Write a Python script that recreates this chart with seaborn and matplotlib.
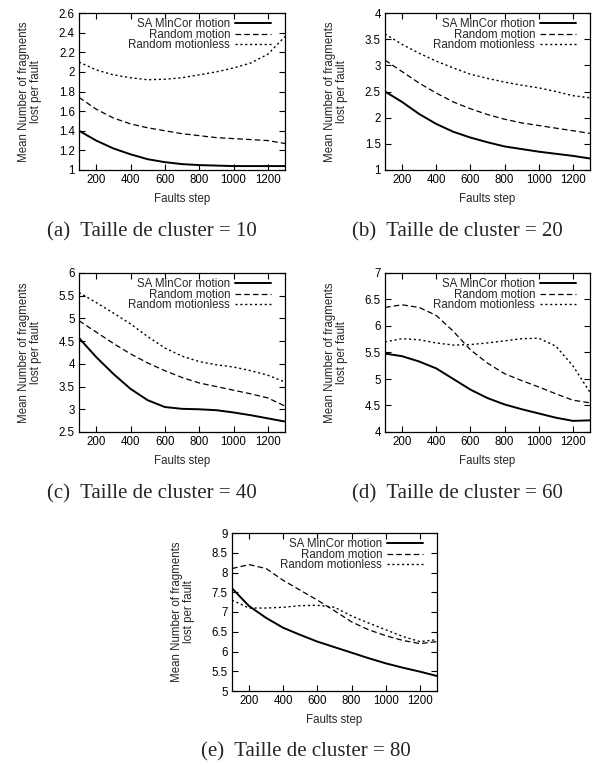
import matplotlib
matplotlib.use("Agg")
import matplotlib.pyplot as plt
import seaborn as sns
import pandas as pd

steps = [100, 200, 300, 400, 500, 600, 700, 800, 900, 1000, 1100, 1200, 1300]
series_names = ["SA MinCor motion", "Random motion", "Random motionless"]

# cluster size 10
c10_sa = [1.40, 1.30, 1.22, 1.16, 1.11, 1.08, 1.06, 1.05, 1.045, 1.04, 1.04, 1.04, 1.04]
c10_rm = [1.74, 1.62, 1.53, 1.47, 1.43, 1.40, 1.37, 1.35, 1.33, 1.32, 1.31, 1.30, 1.27]
c10_ml = [2.10, 2.02, 1.97, 1.94, 1.92, 1.925, 1.94, 1.97, 2.00, 2.04, 2.09, 2.18, 2.36]
# cluster size 20
c20_sa = [2.50, 2.30, 2.07, 1.88, 1.73, 1.62, 1.53, 1.45, 1.40, 1.35, 1.31, 1.27, 1.22]
c20_rm = [3.10, 2.88, 2.66, 2.47, 2.30, 2.17, 2.06, 1.97, 1.90, 1.85, 1.80, 1.75, 1.70]
c20_ml = [3.60, 3.40, 3.23, 3.08, 2.95, 2.83, 2.75, 2.68, 2.62, 2.57, 2.50, 2.42, 2.38]
# cluster size 40
c40_sa = [4.57, 4.15, 3.78, 3.45, 3.20, 3.05, 3.01, 3.00, 2.98, 2.93, 2.87, 2.80, 2.73]
c40_rm = [4.95, 4.70, 4.45, 4.22, 4.02, 3.85, 3.70, 3.58, 3.50, 3.42, 3.34, 3.25, 3.07]
c40_ml = [5.57, 5.35, 5.12, 4.88, 4.60, 4.35, 4.17, 4.05, 3.98, 3.93, 3.85, 3.75, 3.60]
# cluster size 60
c60_sa = [5.48, 5.43, 5.33, 5.20, 5.00, 4.80, 4.64, 4.52, 4.43, 4.35, 4.27, 4.21, 4.22]
c60_rm = [6.35, 6.40, 6.35, 6.20, 5.90, 5.55, 5.30, 5.10, 4.97, 4.85, 4.72, 4.60, 4.55]
c60_ml = [5.70, 5.76, 5.74, 5.68, 5.64, 5.65, 5.68, 5.72, 5.76, 5.77, 5.62, 5.25, 4.75]
# cluster size 80
c80_sa = [7.60, 7.15, 6.85, 6.60, 6.42, 6.25, 6.11, 5.97, 5.83, 5.70, 5.59, 5.49, 5.38]
c80_rm = [8.10, 8.20, 8.10, 7.80, 7.55, 7.30, 7.03, 6.75, 6.55, 6.40, 6.28, 6.20, 6.25]
c80_ml = [7.30, 7.10, 7.10, 7.12, 7.16, 7.17, 7.12, 6.90, 6.72, 6.55, 6.38, 6.25, 6.30]

captions = ["(a)  Taille de cluster = 10", "(b)  Taille de cluster = 20",
            "(c)  Taille de cluster = 40", "(d)  Taille de cluster = 60",
            "(e)  Taille de cluster = 80"]
ylims = [(1, 2.6), (1, 4), (2.5, 6), (4, 7), (5, 9)]
yticks = [[1, 1.2, 1.4, 1.6, 1.8, 2, 2.2, 2.4, 2.6],
          [1, 1.5, 2, 2.5, 3, 3.5, 4],
          [2.5, 3, 3.5, 4, 4.5, 5, 5.5, 6],
          [4, 4.5, 5, 5.5, 6, 6.5, 7],
          [5, 5.5, 6, 6.5, 7, 7.5, 8, 8.5, 9]]
ytick_labels = [["1", "1.2", "1.4", "1.6", "1.8", "2", "2.2", "2.4", "2.6"],
                ["1", "1.5", "2", "2.5", "3", "3.5", "4"],
                ["2.5", "3", "3.5", "4", "4.5", "5", "5.5", "6"],
                ["4", "4.5", "5", "5.5", "6", "6.5", "7"],
                ["5", "5.5", "6", "6.5", "7", "7.5", "8", "8.5", "9"]]
xticks = [200, 400, 600, 800, 1000, 1200]
xtick_labels = ["200", "400", "600", "800", "1000", "1200"]

panels = [(c10_sa, c10_rm, c10_ml), (c20_sa, c20_rm, c20_ml), (c40_sa, c40_rm, c40_ml),
          (c60_sa, c60_rm, c60_ml), (c80_sa, c80_rm, c80_ml)]

sns.set_theme(style="ticks")
plt.rcParams["font.family"] = ["Liberation Sans", "DejaVu Sans"]
plt.rcParams["axes.linewidth"] = 0.9

W, H = 595, 765
fig = plt.figure(figsize=(W / 100, H / 100), dpi=100)

# axes boxes in pixels: left, top, right, bottom
boxes = [(79, 13, 285, 170), (385, 13, 590, 170),
         (79, 273, 285, 432), (385, 273, 590, 432),
         (232, 533, 437, 691)]
cap_pos = [(152, 232), (457, 232), (152, 494), (457, 494), (306, 752)]

styles = [dict(linestyle="-", linewidth=1.4),
          dict(linestyle=(0, (4.5, 2.5)), linewidth=0.9),
          dict(linestyle=(0, (1.5, 2.0)), linewidth=1.0)]

fs = 8.3
for i, (vals, box) in enumerate(zip(panels, boxes)):
    l, t, r, b = box
    ax = fig.add_axes([l / W, 1 - b / H, (r - l) / W, (b - t) / H])
    df = pd.DataFrame({"step": steps * 3,
                       "value": list(vals[0]) + list(vals[1]) + list(vals[2]),
                       "series": [series_names[0]] * 13 + [series_names[1]] * 13 + [series_names[2]] * 13})
    for name, st in zip(series_names, styles):
        sub = df[df["series"] == name]
        sns.lineplot(data=sub, x="step", y="value", ax=ax, color="black",
                     label=name, **st)
    ax.set_xlim(100, 1300)
    ax.set_ylim(*ylims[i])
    ax.set_xticks(xticks)
    ax.set_xticklabels(xtick_labels)
    ax.set_yticks(yticks[i])
    ax.set_yticklabels(ytick_labels[i])
    ax.tick_params(direction="in", length=4, width=0.8, top=True, right=True,
                   labelsize=fs, pad=3, colors="black")
    ax.set_xlabel("Faults step", fontsize=fs)
    ax.set_ylabel("Mean Number of fragments\nlost per fault", fontsize=fs,
                  linespacing=1.0)
    ax.xaxis.set_label_coords(0.5, -29 / (b - t))
    ax.xaxis.label.set_va("center")
    ax.yaxis.set_label_coords(-49 / (r - l), 0.5)
    ax.yaxis.label.set_va("center")
    for sp in ax.spines.values():
        sp.set_color("black")
    leg = ax.legend(loc="upper right", frameon=False, markerfirst=False,
                    fontsize=fs, handlelength=3.1, handletextpad=0.45,
                    labelspacing=-0.12, borderaxespad=0.0, borderpad=0.0,
                    bbox_to_anchor=((r - l - 14) / (r - l), 1 - 5 / (b - t)))
    cx, cy = cap_pos[i]
    fig.text(cx / W, 1 - cy / H, captions[i], ha="center", va="center",
             fontsize=15, family=["Liberation Serif", "DejaVu Serif"])

fig.savefig("out.png", dpi=100)
